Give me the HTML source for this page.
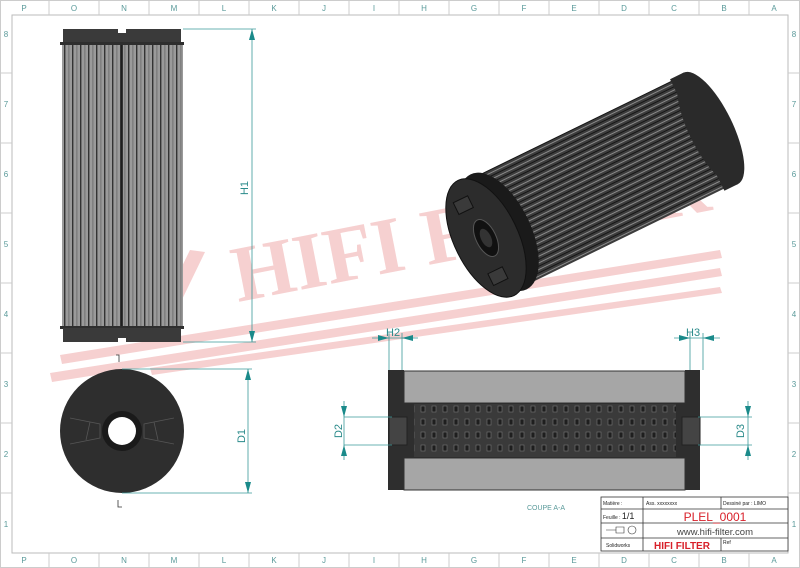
<!DOCTYPE html>
<html><head><meta charset="utf-8"><style>
html,body{margin:0;padding:0;background:#fff;}
svg{display:block;font-family:"Liberation Sans",sans-serif;}
</style></head><body>
<svg width="800" height="568" viewBox="0 0 800 568" xmlns="http://www.w3.org/2000/svg">
<defs>
<pattern id="pl" width="8" height="10" patternUnits="userSpaceOnUse">
<rect width="8" height="10" fill="#9a9a9a"/><rect x="0" width="1.4" height="10" fill="#333"/><rect x="4.5" width="0.8" height="10" fill="#666"/>
</pattern>
<pattern id="iso" width="10" height="6" patternUnits="userSpaceOnUse">
<rect width="10" height="6" fill="#3c3c3c"/><rect y="0" width="10" height="1" fill="#151515"/><rect y="3" width="10" height="1" fill="#8a8a8a"/>
</pattern>
<pattern id="perf" width="11" height="13" patternUnits="userSpaceOnUse">
<rect width="11" height="13" fill="#3a3a3a"/><rect x="3" y="3" width="4" height="6" fill="#1e1e1e" stroke="#777" stroke-width="0.6"/>
</pattern>
</defs>
<rect width="800" height="568" fill="#fff"/>
<rect x="0.5" y="0.5" width="799" height="567" fill="none" stroke="#ccc"/>
<rect x="12" y="15" width="776" height="538" fill="none" stroke="#bbb"/>
<g stroke="#ccc" stroke-width="1">
<line x1="49" y1="0" x2="49" y2="15"/><line x1="99" y1="0" x2="99" y2="15"/><line x1="149" y1="0" x2="149" y2="15"/><line x1="199" y1="0" x2="199" y2="15"/><line x1="249" y1="0" x2="249" y2="15"/><line x1="299" y1="0" x2="299" y2="15"/><line x1="349" y1="0" x2="349" y2="15"/><line x1="399" y1="0" x2="399" y2="15"/><line x1="449" y1="0" x2="449" y2="15"/><line x1="499" y1="0" x2="499" y2="15"/><line x1="549" y1="0" x2="549" y2="15"/><line x1="599" y1="0" x2="599" y2="15"/><line x1="649" y1="0" x2="649" y2="15"/><line x1="699" y1="0" x2="699" y2="15"/><line x1="749" y1="0" x2="749" y2="15"/>
<line x1="49" y1="553" x2="49" y2="568"/><line x1="99" y1="553" x2="99" y2="568"/><line x1="149" y1="553" x2="149" y2="568"/><line x1="199" y1="553" x2="199" y2="568"/><line x1="249" y1="553" x2="249" y2="568"/><line x1="299" y1="553" x2="299" y2="568"/><line x1="349" y1="553" x2="349" y2="568"/><line x1="399" y1="553" x2="399" y2="568"/><line x1="449" y1="553" x2="449" y2="568"/><line x1="499" y1="553" x2="499" y2="568"/><line x1="549" y1="553" x2="549" y2="568"/><line x1="599" y1="553" x2="599" y2="568"/><line x1="649" y1="553" x2="649" y2="568"/><line x1="699" y1="553" x2="699" y2="568"/><line x1="749" y1="553" x2="749" y2="568"/>
<line x1="0" y1="73" x2="12" y2="73"/><line x1="0" y1="143" x2="12" y2="143"/><line x1="0" y1="213" x2="12" y2="213"/><line x1="0" y1="283" x2="12" y2="283"/><line x1="0" y1="353" x2="12" y2="353"/><line x1="0" y1="423" x2="12" y2="423"/><line x1="0" y1="493" x2="12" y2="493"/>
<line x1="788" y1="73" x2="800" y2="73"/><line x1="788" y1="143" x2="800" y2="143"/><line x1="788" y1="213" x2="800" y2="213"/><line x1="788" y1="283" x2="800" y2="283"/><line x1="788" y1="353" x2="800" y2="353"/><line x1="788" y1="423" x2="800" y2="423"/><line x1="788" y1="493" x2="800" y2="493"/>
</g>
<g fill="#5a9a9a" font-size="8" text-anchor="middle">
<text x="24" y="11">P</text><text x="74" y="11">O</text><text x="124" y="11">N</text><text x="174" y="11">M</text><text x="224" y="11">L</text><text x="274" y="11">K</text><text x="324" y="11">J</text><text x="374" y="11">I</text><text x="424" y="11">H</text><text x="474" y="11">G</text><text x="524" y="11">F</text><text x="574" y="11">E</text><text x="624" y="11">D</text><text x="674" y="11">C</text><text x="724" y="11">B</text><text x="774" y="11">A</text>
<text x="24" y="563">P</text><text x="74" y="563">O</text><text x="124" y="563">N</text><text x="174" y="563">M</text><text x="224" y="563">L</text><text x="274" y="563">K</text><text x="324" y="563">J</text><text x="374" y="563">I</text><text x="424" y="563">H</text><text x="474" y="563">G</text><text x="524" y="563">F</text><text x="574" y="563">E</text><text x="624" y="563">D</text><text x="674" y="563">C</text><text x="724" y="563">B</text><text x="774" y="563">A</text>
<text x="6" y="37">8</text><text x="6" y="107">7</text><text x="6" y="177">6</text><text x="6" y="247">5</text><text x="6" y="317">4</text><text x="6" y="387">3</text><text x="6" y="457">2</text><text x="6" y="527">1</text>
<text x="794" y="37">8</text><text x="794" y="107">7</text><text x="794" y="177">6</text><text x="794" y="247">5</text><text x="794" y="317">4</text><text x="794" y="387">3</text><text x="794" y="457">2</text><text x="794" y="527">1</text>
</g>
<g fill="#f6d0d0">
<polygon points="190,250 205,252 160,345 145,342"/>
<polygon points="50,373 720,268 722,276 52,382"/>
<polygon points="60,355 720,250 722,258 62,364"/>
<polygon points="150,368 720,287 722,293 152,375"/>
<text x="0" y="0" font-size="80" font-weight="bold" font-family="Liberation Serif,serif" transform="translate(238,302) rotate(-11)">HIFI FILTER</text>
</g>
<rect x="62" y="43" width="121" height="285" fill="url(#pl)"/>
<line x1="122" y1="43" x2="122" y2="328" stroke="#111" stroke-width="1.5"/>
<rect x="63" y="29" width="118" height="14" fill="#3a3a3a"/>
<rect x="60" y="42" width="124" height="3" fill="#2e2e2e"/>
<rect x="118" y="29" width="8" height="4" fill="#fff"/>
<rect x="60" y="326" width="124" height="3" fill="#2e2e2e"/>
<rect x="63" y="328" width="118" height="14" fill="#3a3a3a"/>
<rect x="118" y="338" width="8" height="4" fill="#fff"/>
<g stroke="#3a9a9a" fill="#1a8a8a" stroke-width="0.8">
<line x1="183" y1="29" x2="256" y2="29"/><line x1="183" y1="342" x2="256" y2="342"/>
<line x1="252" y1="29" x2="252" y2="342"/>
<polygon points="252,29 249,40 255,40" stroke="none"/><polygon points="252,342 249,331 255,331" stroke="none"/>
</g>
<text transform="translate(248,188) rotate(-90)" fill="#2a8a8a" font-size="11" text-anchor="middle">H1</text>
<circle cx="122" cy="431" r="62" fill="#2e2e2e"/>
<circle cx="122" cy="431" r="20" fill="#1a1a1a"/>
<circle cx="122" cy="431" r="14" fill="#fff"/>
<g stroke="#555" stroke-width="0.8" fill="none">
<path d="M70,418 L100,424 L100,438 L70,444 M90,422 L86,440"/>
<path d="M174,418 L144,424 L144,438 L174,444 M154,422 L158,440"/>
</g>
<g stroke="#333" stroke-width="0.8" fill="none"><path d="M116,355 h3 v7"/><path d="M118,500 v7 h4"/></g>
<g stroke="#3a9a9a" fill="#1a8a8a" stroke-width="0.8">
<line x1="122" y1="369" x2="252" y2="369"/><line x1="122" y1="493" x2="252" y2="493"/>
<line x1="248" y1="369" x2="248" y2="493"/>
<polygon points="248,369 245,380 251,380" stroke="none"/><polygon points="248,493 245,482 251,482" stroke="none"/>
</g>
<text transform="translate(245,436) rotate(-90)" fill="#2a8a8a" font-size="11" text-anchor="middle">D1</text>
<g transform="translate(486,238) rotate(-26)">
<rect x="0" y="-60" width="245" height="120" fill="url(#iso)"/>
<ellipse cx="250" cy="0" rx="22" ry="62" fill="#2a2a2a"/>
<rect x="235" y="-62" width="15" height="124" fill="#2a2a2a"/>
<ellipse cx="14" cy="0" rx="32" ry="64" fill="#1a1a1a"/>
<ellipse cx="0" cy="0" rx="32" ry="64" fill="#2c2c2c" stroke="#111"/>
<ellipse cx="0" cy="0" rx="10" ry="20" fill="#111" stroke="#555"/>
<ellipse cx="0" cy="0" rx="5" ry="10" fill="#333"/>
<rect x="-14" y="-46" width="16" height="13" fill="#3a3a3a" stroke="#111"/>
<rect x="-14" y="33" width="16" height="13" fill="#3a3a3a" stroke="#111"/>
</g>
<rect x="388" y="370" width="16" height="120" fill="#2e2e2e"/>
<rect x="685" y="370" width="15" height="120" fill="#2e2e2e"/>
<rect x="404" y="371" width="281" height="32" fill="#a6a6a6" stroke="#333"/>
<rect x="404" y="458" width="281" height="32" fill="#a6a6a6" stroke="#333"/>
<rect x="404" y="403" width="281" height="55" fill="#2e2e2e"/>
<rect x="414" y="404" width="262" height="53" fill="url(#perf)"/>
<rect x="389" y="417" width="18" height="28" fill="#444" stroke="#222"/>
<rect x="682" y="417" width="18" height="28" fill="#444" stroke="#222"/>
<g stroke="#3a9a9a" fill="#1a8a8a" stroke-width="0.8">
<line x1="389" y1="333" x2="389" y2="370"/><line x1="402" y1="333" x2="402" y2="370"/>
<line x1="372" y1="338" x2="418" y2="338"/>
<polygon points="389,338 378,335 378,341" stroke="none"/><polygon points="402,338 413,335 413,341" stroke="none"/>
<line x1="690" y1="333" x2="690" y2="370"/><line x1="703" y1="333" x2="703" y2="370"/>
<line x1="674" y1="338" x2="720" y2="338"/>
<polygon points="690,338 679,335 679,341" stroke="none"/><polygon points="703,338 714,335 714,341" stroke="none"/>
<line x1="344" y1="417" x2="392" y2="417"/><line x1="344" y1="445" x2="392" y2="445"/>
<line x1="344" y1="401" x2="344" y2="460"/>
<polygon points="344,417 341,406 347,406" stroke="none"/><polygon points="344,445 341,456 347,456" stroke="none"/>
<line x1="698" y1="417" x2="752" y2="417"/><line x1="698" y1="445" x2="752" y2="445"/>
<line x1="748" y1="401" x2="748" y2="460"/>
<polygon points="748,417 745,406 751,406" stroke="none"/><polygon points="748,445 745,456 751,456" stroke="none"/>
</g>
<g fill="#2a8a8a" font-size="11">
<text x="386" y="336">H2</text><text x="686" y="336">H3</text>
<text transform="translate(342,431) rotate(-90)" text-anchor="middle">D2</text>
<text transform="translate(744,431) rotate(-90)" text-anchor="middle">D3</text>
</g>
<text x="546" y="510" fill="#5a9a9a" font-size="7" text-anchor="middle">COUPE A-A</text>
<g stroke="#333" stroke-width="0.8" fill="none">
<rect x="601" y="497" width="187" height="54" fill="#fff"/>
<line x1="601" y1="509" x2="788" y2="509"/><line x1="601" y1="523" x2="788" y2="523"/><line x1="601" y1="538" x2="788" y2="538"/>
<line x1="643" y1="497" x2="643" y2="551"/><line x1="721" y1="497" x2="721" y2="509"/><line x1="721" y1="538" x2="721" y2="551"/>
<path d="M606,530 h10 v-3 h8 v6 h-8 v-3 M616,527 v6" stroke-width="0.6"/>
<circle cx="632" cy="530" r="4" stroke-width="0.6"/>
</g>
<g font-size="5" fill="#222">
<text x="603" y="505">Matière :</text><text x="646" y="505">Ass. xxxxxxxx</text><text x="723" y="505">Dessiné par : LIMO</text>
<text x="603" y="519">Feuille : <tspan font-size="9">1/1</tspan></text>
<text x="606" y="547">Solidworks</text><text x="723" y="544">Ref</text>
</g>
<text x="715" y="521" fill="#d8202a" font-size="12" text-anchor="middle">PLEL_0001</text>
<text x="715" y="535" fill="#444" font-size="9.5" text-anchor="middle">www.hifi-filter.com</text>
<text x="682" y="549" fill="#d8202a" font-size="10" font-weight="bold" text-anchor="middle">HIFI FILTER</text>
</svg>
</body></html>
